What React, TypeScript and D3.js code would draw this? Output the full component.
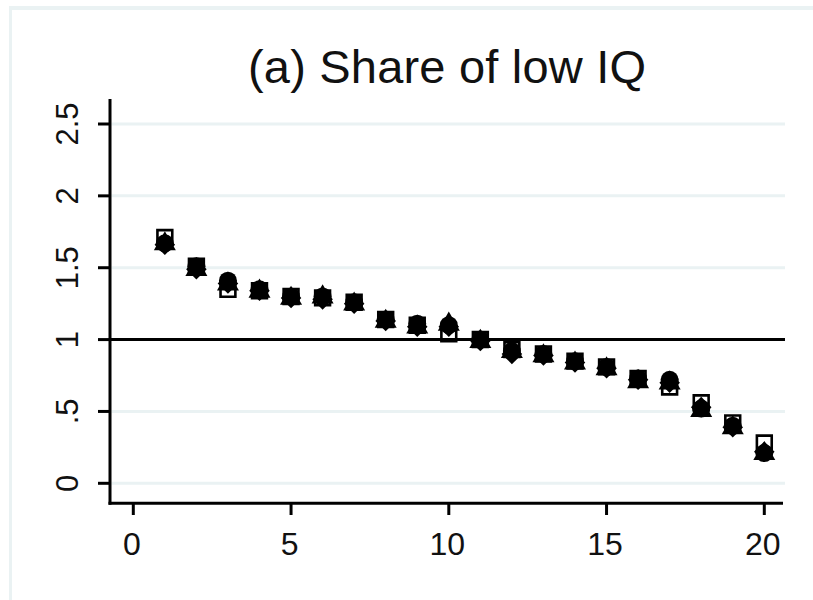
import React from "react";
import * as d3 from "d3";

const TITLE = "(a) Share of low IQ";
const xCats = [1, 2, 3, 4, 5, 6, 7, 8, 9, 10, 11, 12, 13, 14, 15, 16, 17, 18, 19, 20];
const circleVals = [1.67, 1.51, 1.41, 1.35, 1.30, 1.30, 1.26, 1.14, 1.11, 1.10, 1.00, 0.92, 0.90, 0.85, 0.81, 0.73, 0.72, 0.52, 0.40, 0.21];
const triangleVals = [1.68, 1.50, 1.40, 1.35, 1.30, 1.31, 1.26, 1.14, 1.10, 1.12, 1.00, 0.93, 0.90, 0.85, 0.81, 0.72, 0.71, 0.52, 0.40, 0.22];
const diamondVals = [1.66, 1.49, 1.39, 1.34, 1.29, 1.28, 1.25, 1.13, 1.09, 1.09, 0.99, 0.90, 0.89, 0.84, 0.80, 0.72, 0.70, 0.53, 0.39, 0.22];
const squareVals = [1.71, 1.51, 1.35, 1.34, 1.30, 1.29, 1.26, 1.14, 1.10, 1.04, 1.00, 0.93, 0.90, 0.85, 0.81, 0.73, 0.67, 0.56, 0.42, 0.28];
const xTicks = [0, 5, 10, 15, 20];
const yTicks = [0, 0.5, 1, 1.5, 2, 2.5];
const yTickLabels = ["0", ".5", "1", "1.5", "2", "2.5"];
const refLine = 1;

const FONT = "'Liberation Sans', Arial, sans-serif";
const GRID = "#eaf2f3";

export default function App() {
  const x = d3.scaleLinear().domain([0, 20]).range([133.3, 764.3]);
  const y = d3.scaleLinear().domain([0, 2.5]).range([483.3, 124]);
  const plotLeft = 110;
  const plotRight = 785;
  const plotTop = 99;
  const axisY = 503.2;

  const circle = d3.symbol().type(d3.symbolCircle).size(Math.PI * 9 * 9)();
  const tri = d3.symbol().type(d3.symbolTriangle).size(210)();
  const dia = d3.symbol().type(d3.symbolDiamond2).size(270)();
  const sq = d3.symbol().type(d3.symbolSquare).size(220)();

  return (
    <svg width={813} height={600} style={{ position: "absolute", left: 0, top: 0, background: "#fff" }}>
      <rect x={0} y={0} width={813} height={600} fill="#fff" />
      <rect x={9} y={6} width={804} height={4} fill={GRID} />
      <rect x={9} y={6} width={3} height={594} fill={GRID} />

      {/* title */}
      <text x={447} y={82.5} textAnchor="middle" fontFamily={FONT} fontSize={47} fill="#111" textLength={398} lengthAdjust="spacing">
        {TITLE}
      </text>

      {/* gridlines */}
      {yTicks.filter((t) => t !== refLine).map((t) => (
        <line key={"g" + t} x1={plotLeft + 1.5} x2={plotRight} y1={y(t)} y2={y(t)} stroke={GRID} strokeWidth={3} />
      ))}

      {/* reference line */}
      <line x1={plotLeft} x2={plotRight} y1={y(refLine)} y2={y(refLine)} stroke="#000" strokeWidth={3} />

      {/* y axis */}
      <line x1={plotLeft} x2={plotLeft} y1={plotTop} y2={axisY + 1.5} stroke="#000" strokeWidth={3} />
      {yTicks.map((t, i) => (
        <g key={"yt" + t}>
          <line x1={98} x2={plotLeft} y1={y(t)} y2={y(t)} stroke="#000" strokeWidth={3} />
          <text
            transform={`translate(78,${y(t)}) rotate(-90)`}
            textAnchor="middle"
            fontFamily={FONT}
            fontSize={31}
            fill="#111"
          >
            {yTickLabels[i]}
          </text>
        </g>
      ))}

      {/* x axis */}
      <line x1={plotLeft - 1.5} x2={783} y1={axisY} y2={axisY} stroke="#000" strokeWidth={3} />
      {xTicks.map((t) => (
        <g key={"xt" + t}>
          <line x1={x(t)} x2={x(t)} y1={axisY} y2={515} stroke="#000" strokeWidth={3} />
          <text x={x(t) - 1.5} y={555} textAnchor="middle" fontFamily={FONT} fontSize={32} fill="#111">
            {String(t)}
          </text>
        </g>
      ))}

      {/* markers */}
      {xCats.map((c, i) => (
        <path key={"d" + c} d={dia} transform={`translate(${x(c)},${y(diamondVals[i])})`} fill="#000" />
      ))}
      {xCats.map((c, i) => (
        <path key={"t" + c} d={tri} transform={`translate(${x(c)},${y(triangleVals[i]) + 2})`} fill="#000" />
      ))}
      {xCats.map((c, i) => (
        <path key={"c" + c} d={circle} transform={`translate(${x(c)},${y(circleVals[i])})`} fill="#000" />
      ))}
      {xCats.map((c, i) => (
        <path
          key={"s" + c}
          d={sq}
          transform={`translate(${x(c)},${y(squareVals[i])})`}
          fill="none"
          stroke="#000"
          strokeWidth={2.6}
        />
      ))}
    </svg>
  );
}
